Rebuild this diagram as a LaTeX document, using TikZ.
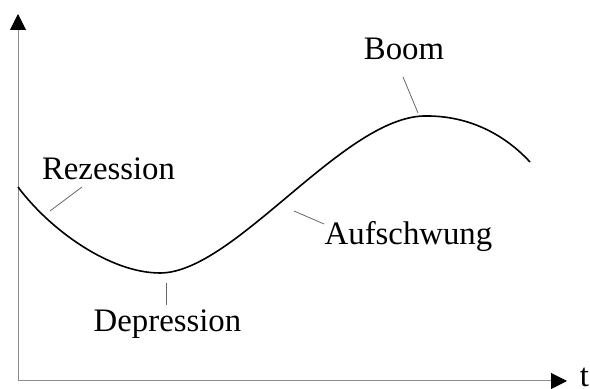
\documentclass[tikz,border=0pt]{standalone}
\usepackage{fontspec}
\setmainfont{Liberation Serif}
\usepackage{tikz}
\usetikzlibrary{arrows.meta}

\begin{document}
\begin{tikzpicture}[
  x=0.5pt, y=-0.5pt,
  phase/.style={inner sep=0pt, anchor=base, font=\fontsize{16.4}{20}\selectfont},
  axis/.style={draw=black!45, line width=0.5pt, -{Triangle[length=8pt, width=8pt, color=black]}},
  curve/.style={draw=black, line width=0.8pt},
  leader/.style={draw=black!60, line width=0.4pt}
]
\useasboundingbox (0,0) rectangle (590,389);
% axes
\coordinate (origin) at (18,381);
\coordinate (ytop) at (18,14);
\coordinate (xend) at (567,381);
\draw[axis] (origin) -- (ytop);
\draw[axis] (origin) -- (xend);
\node[phase] (t) at (584.5,387) {t};
% business cycle
\draw[curve] (18,187) .. controls (50,230) and (110,273) .. (160,273)
  .. controls (235,273) and (345,114) .. (427,116)
  .. controls (470,116) and (505,135) .. (530,162);
% phase labels
\node[phase] (rez) at (108.5,180) {Rezession};
\node[phase] (dep) at (167.5,332) {Depression};
\node[phase] (auf) at (408.5,245) {Aufschwung};
\node[phase] (boom) at (404,60) {Boom};
\coordinate (rezA) at (82,187);  \coordinate (rezB) at (50,211);
\coordinate (depA) at (166,305); \coordinate (depB) at (166,283);
\coordinate (aufA) at (324,224); \coordinate (aufB) at (294,211);
\coordinate (boomA) at (403,77); \coordinate (boomB) at (418,113);
\draw[leader] (rezA) -- (rezB);
\draw[leader] (depA) -- (depB);
\draw[leader] (aufA) -- (aufB);
\draw[leader] (boomA) -- (boomB);
\end{tikzpicture}
\end{document}
